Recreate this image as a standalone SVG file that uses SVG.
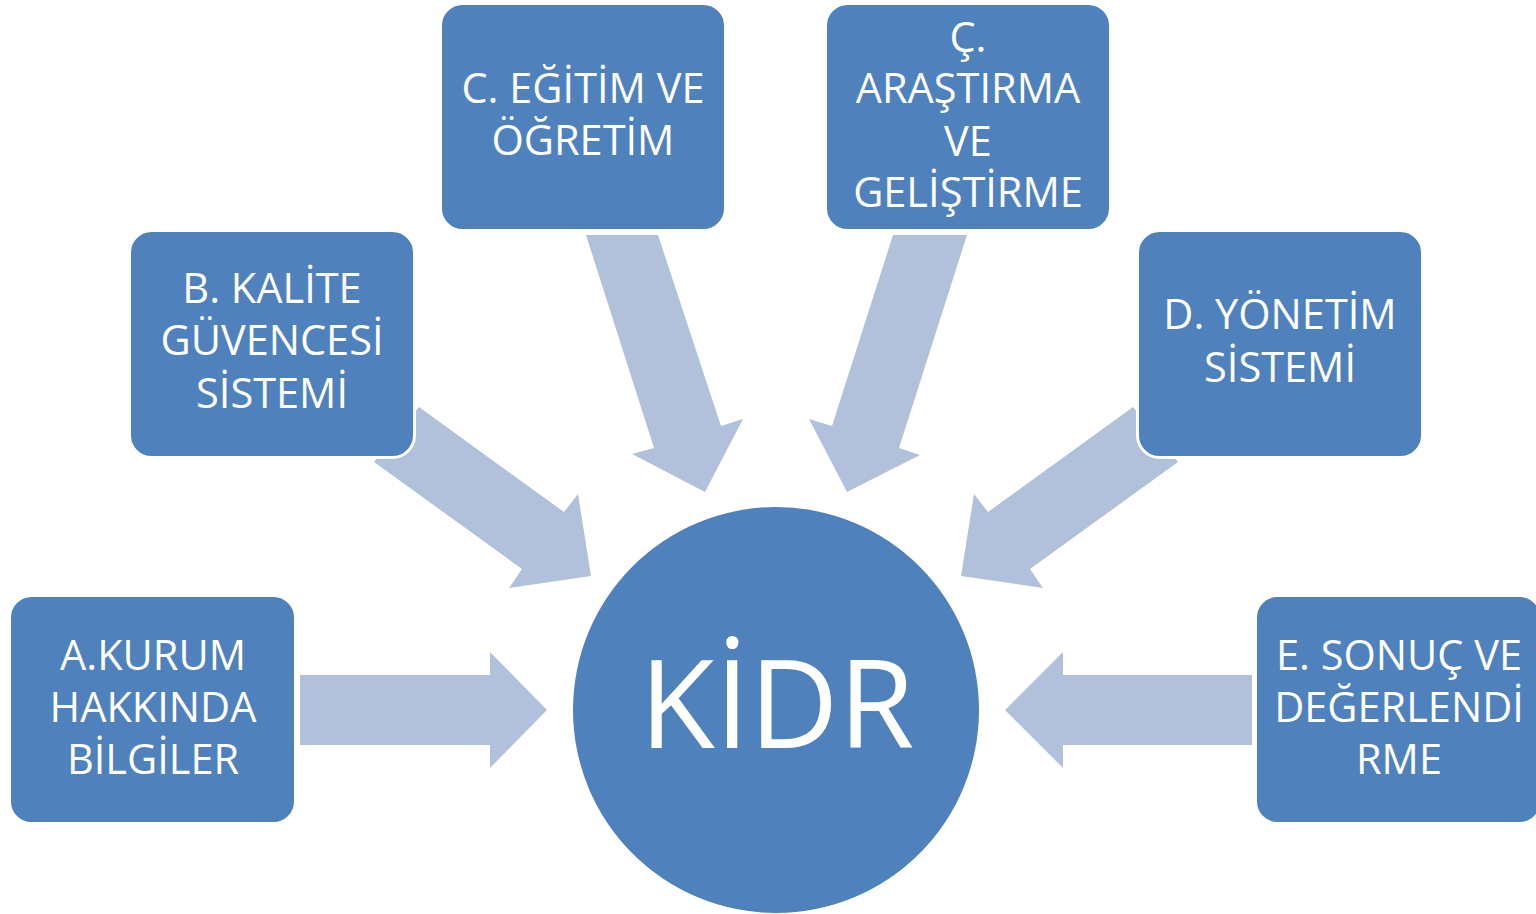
<svg xmlns="http://www.w3.org/2000/svg" width="1536" height="914" viewBox="0 0 1536 914">
<style>
.box{fill:#4F81BD;stroke:#FFFFFF;stroke-width:3}
.arr{fill:#B1C1DB}
.lbl{font-family:"Open Sans","Liberation Sans",sans-serif;font-size:41.5px;fill:#FFFFFF;text-anchor:middle}
.big{font-family:"Open Sans","Liberation Sans",sans-serif;font-size:123px;fill:#FFFFFF;text-anchor:middle}
</style>
<rect width="1536" height="914" fill="#FFFFFF"/>
<g id="connectors">
<polygon class="arr" points="300,675 490,675 490,652 547,710 490,768 490,745 300,745"/>
<polygon class="arr" points="1252,675 1063,675 1063,652 1005,710 1063,768 1063,745 1252,745"/>
<polygon class="arr" points="419,407 564,512 578,494 591,576 509,588 522,569 374,462"/>
<polygon class="arr" points="1133,407 988,512 974,494 961,576 1043,588 1030,569 1178,462"/>
<polygon class="arr" points="586,235 658,235 721,426 743,419 705,492 632,454 654,448"/>
<polygon class="arr" points="893,235 967,235 899,448 920,455 847,492 809,419 832,426"/>
</g>
<g id="node-kidr">
<circle cx="776" cy="710" r="203" fill="#4F81BD"/>
<text class="big" x="777" y="748">KİDR</text>
</g>
<g id="node-a">
<rect class="box" x="9.5" y="595.5" width="286" height="228" rx="22"/>
<text class="lbl" x="153" y="670">A.KURUM</text>
<text class="lbl" x="153" y="722">HAKKINDA</text>
<text class="lbl" x="153" y="774">BİLGİLER</text>
</g>
<g id="node-b">
<rect class="box" x="129.5" y="230.5" width="285" height="227" rx="22"/>
<text class="lbl" x="272" y="303">B. KALİTE</text>
<text class="lbl" x="272" y="355">GÜVENCESİ</text>
<text class="lbl" x="272" y="408">SİSTEMİ</text>
</g>
<g id="node-c">
<rect class="box" x="440.5" y="3.5" width="285" height="227" rx="22"/>
<text class="lbl" x="583" y="103">C. EĞİTİM VE</text>
<text class="lbl" x="583" y="155">ÖĞRETİM</text>
</g>
<g id="node-cc">
<rect class="box" x="825.5" y="3.5" width="285" height="227" rx="22"/>
<text class="lbl" x="968" y="52">Ç.</text>
<text class="lbl" x="968" y="103">ARAŞTIRMA</text>
<text class="lbl" x="968" y="156">VE</text>
<text class="lbl" x="968" y="207">GELİŞTİRME</text>
</g>
<g id="node-d">
<rect class="box" x="1137.5" y="230.5" width="285" height="227" rx="22"/>
<text class="lbl" x="1280" y="329">D. YÖNETİM</text>
<text class="lbl" x="1280" y="382">SİSTEMİ</text>
</g>
<g id="node-e">
<rect class="box" x="1255.5" y="595.5" width="286" height="228" rx="22"/>
<text class="lbl" x="1399" y="670">E. SONUÇ VE</text>
<text class="lbl" x="1399" y="722">DEĞERLENDİ</text>
<text class="lbl" x="1399" y="774">RME</text>
</g>
</svg>
